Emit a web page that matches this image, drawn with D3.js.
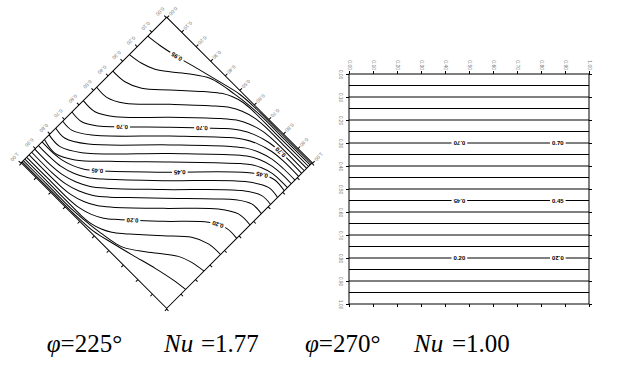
<!DOCTYPE html>
<html>
<head>
<meta charset="utf-8">
<script src="https://cdn.jsdelivr.net/npm/d3@7"></script>
<style>
  body { margin: 0; background: #fff; }
  svg { display: block; }
</style>
</head>
<body>
<div id="chart"></div>
<script>
// isotherm levels, shared by both panels
const levels = [0.05, 0.10, 0.15, 0.20, 0.25, 0.30, 0.35, 0.40, 0.45, 0.50,
                0.55, 0.60, 0.65, 0.70, 0.75, 0.80, 0.85, 0.90, 0.95];
const tickValues = [0, 0.1, 0.2, 0.3, 0.4, 0.5, 0.6, 0.7, 0.8, 0.9, 1];

// captions
const phiValues = [225, 270];
const nuValues = ['1.77', '1.00'];

// phi = 270 deg: pure conduction, every isotherm is a straight line at depth y
const depth270 = [0.95, 0.90, 0.85, 0.80, 0.75, 0.70, 0.65, 0.60, 0.55, 0.50,
                  0.45, 0.40, 0.35, 0.30, 0.25, 0.20, 0.15, 0.10, 0.05];
const labels270 = [
  { level: 0.70, at: 0.46, flip: true },  { level: 0.70, at: 0.87, flip: false },
  { level: 0.45, at: 0.46, flip: true },  { level: 0.45, at: 0.87, flip: false },
  { level: 0.20, at: 0.46, flip: false }, { level: 0.20, at: 0.87, flip: true }
];

// phi = 225 deg: traced isotherms, cavity coordinates [x, y] (x along top wall, y down left wall)
const t05 = [[0,0.9935],[0.215,0.9935],[0.353,0.9938],[0.483,0.9866],[0.595,0.9608],[0.704,0.9333],[0.823,0.902],[0.926,0.880],[1,0.870]];
const t10 = [[0,0.9852],[0.172,0.9852],[0.344,0.9849],[0.458,0.9756],[0.518,0.967],[0.577,0.9574],[0.642,0.9392],[0.725,0.885],[0.802,0.824],[0.862,0.781],[0.928,0.756],[1,0.744]];
const t15 = [[0,0.9746],[0.230,0.9746],[0.391,0.9746],[0.447,0.9691],[0.503,0.9522],[0.550,0.9275],[0.598,0.889],[0.631,0.8595],[0.739,0.762],[0.842,0.670],[0.922,0.635],[1,0.630]];
const t20 = [[0,0.962],[0.149,0.9619],[0.288,0.9619],[0.353,0.9553],[0.418,0.9361],[0.473,0.9072],[0.528,0.862],[0.690,0.712],[0.848,0.561],[0.931,0.519],[1,0.519]];
const t25 = [[0,0.9454],[0.208,0.945],[0.278,0.9385],[0.348,0.9175],[0.407,0.8866],[0.466,0.8385],[0.645,0.668],[0.836,0.481],[0.922,0.429],[1,0.427]];
const t30 = [[0,0.9275],[0.147,0.9278],[0.221,0.9203],[0.296,0.898],[0.359,0.865],[0.422,0.814],[0.488,0.751],[0.611,0.633],[0.790,0.458],[0.862,0.391],[0.933,0.349],[1,0.349]];
const t35 = [[0,0.9065],[0.106,0.9069],[0.180,0.8993],[0.255,0.877],[0.318,0.844],[0.381,0.793],[0.581,0.603],[0.853,0.338],[0.939,0.286],[1,0.286]];
const t40 = [[0,0.8814],[0.080,0.881],[0.149,0.875],[0.219,0.854],[0.278,0.823],[0.337,0.775],[0.550,0.573],[0.834,0.295],[0.934,0.235],[1,0.238]];
const t45 = [[0,0.8564],[0.066,0.8567],[0.127,0.8505],[0.187,0.832],[0.238,0.8055],[0.290,0.764],[0.521,0.543],[0.827,0.243],[0.922,0.189],[1,0.192]];
const t50 = [[0,0.840],[0.084,0.851],[0.175,0.805],[0.300,0.690],[0.509,0.486],[0.666,0.334],[0.756,0.249],[0.799,0.214],[0.843,0.191],[0.894,0.175],[0.945,0.170],[1,0.170]];
const t55 = [[0,0.808],[0.078,0.811],[0.173,0.757],[0.479,0.457],[0.710,0.236],[0.762,0.1945],[0.813,0.168],[0.873,0.1495],[0.934,0.1433],[1,0.1436]];
const t60 = [[0,0.762],[0.066,0.765],[0.166,0.705],[0.450,0.427],[0.663,0.225],[0.722,0.177],[0.781,0.146],[0.851,0.125],[0.920,0.119],[1,0.1186]];
const t65 = [[0,0.714],[0.061,0.714],[0.147,0.662],[0.419,0.397],[0.619,0.207],[0.682,0.156],[0.745,0.123],[0.820,0.1007],[0.894,0.0931],[1,0.0935]];
const t70 = [[0,0.651],[0.067,0.651],[0.138,0.609],[0.210,0.542],[0.389,0.367],[0.512,0.249],[0.578,0.186],[0.641,0.135],[0.704,0.102],[0.779,0.0797],[0.853,0.0722],[1,0.0725]];
const t75 = [[0,0.573],[0.078,0.571],[0.164,0.519],[0.355,0.332],[0.534,0.1615],[0.593,0.1134],[0.652,0.0825],[0.722,0.0615],[0.792,0.055],[1,0.0546]];
const t80 = [[0,0.481],[0.069,0.481],[0.152,0.439],[0.310,0.288],[0.472,0.138],[0.527,0.0928],[0.582,0.0639],[0.647,0.0447],[0.712,0.0381],[0.851,0.0381],[1,0.038]];
const t85 = [[0,0.370],[0.078,0.365],[0.158,0.330],[0.261,0.238],[0.369,0.1405],[0.402,0.111],[0.450,0.0725],[0.497,0.0478],[0.553,0.0309],[0.609,0.0254],[0.770,0.0254],[1,0.0254]];
const t90 = [[0,0.256],[0.072,0.244],[0.138,0.219],[0.198,0.176],[0.275,0.115],[0.358,0.0608],[0.423,0.0426],[0.482,0.033],[0.542,0.0244],[0.656,0.0151],[0.828,0.0148],[1,0.0148]];
const t95 = [[0,0.130],[0.074,0.120],[0.177,0.098],[0.296,0.0667],[0.405,0.0392],[0.517,0.0134],[0.647,0.0062],[0.785,0.0065],[1,0.0065]];
const iso225 = [t05, t10, t15, t20, t25, t30, t35, t40, t45, t50, t55, t60, t65, t70, t75, t80, t85, t90, t95];
const labels225 = [
  { level: 0.95, at: 0.17, flip: true },
  { level: 0.70, at: 0.22, flip: true }, { level: 0.70, at: 0.54, flip: true }, { level: 0.70, at: 0.88, flip: true },
  { level: 0.45, at: 0.25, flip: true }, { level: 0.45, at: 0.57, flip: true }, { level: 0.45, at: 0.89, flip: true },
  { level: 0.20, at: 0.54, flip: true }, { level: 0.20, at: 0.90, flip: true }
];

const width = 627, height = 365;
const svg = d3.select('#chart').append('svg')
  .attr('width', width)
  .attr('height', height);

function drawPanel(g, x, y, lines, labels) {
  const w = x.range()[1], h = y.range()[1];
  const fmt = d3.format('.2f');

  const top = g.append('g')
    .call(d3.axisTop(x).tickValues(tickValues).tickSize(3).tickSizeOuter(0).tickFormat(fmt));
  top.selectAll('text')
    .attr('transform', 'rotate(90)')
    .attr('x', -4).attr('y', 0).attr('dy', null)
    .attr('text-anchor', 'end')
    .attr('dominant-baseline', 'central');

  const left = g.append('g')
    .call(d3.axisLeft(y).tickValues(tickValues).tickSize(3).tickSizeOuter(0).tickFormat(fmt));
  left.selectAll('text')
    .attr('transform', 'rotate(90)')
    .attr('x', 0).attr('y', 8.5).attr('dy', null)
    .attr('text-anchor', 'middle')
    .attr('dominant-baseline', 'central');

  g.append('g').attr('transform', `translate(0,${h})`)
    .call(d3.axisBottom(x).tickValues(tickValues).tickSize(3).tickSizeOuter(0).tickFormat(''));
  g.append('g').attr('transform', `translate(${w},0)`)
    .call(d3.axisRight(y).tickValues(tickValues).tickSize(3).tickSizeOuter(0).tickFormat(''));

  g.selectAll('.domain').remove();
  g.selectAll('.tick text')
    .attr('fill', '#777')
    .style('font-family', '"Liberation Sans", Arial, sans-serif')
    .style('font-size', '5px');

  g.append('rect')
    .attr('width', w).attr('height', h)
    .attr('fill', 'none').attr('stroke', '#000').attr('stroke-width', 1);

  const line = d3.line()
    .x(d => x(d[0]))
    .y(d => y(d[1]))
    .curve(d3.curveCatmullRom.alpha(0.5));

  const paths = g.append('g').selectAll('path')
    .data(lines)
    .join('path')
    .attr('d', d => line(d.pts))
    .attr('fill', 'none')
    .attr('stroke', '#000')
    .attr('stroke-width', 1);

  // inline contour labels, cut into the line
  labels.forEach(l => {
    const node = paths.filter(d => d.level === l.level).node();
    const len = node.getTotalLength();
    const p = node.getPointAtLength(l.at * len);
    const q = node.getPointAtLength(Math.min(len, l.at * len + 1));
    const ang = Math.atan2(q.y - p.y, q.x - p.x) * 180 / Math.PI + (l.flip ? 180 : 0);
    const lg = g.append('g').attr('transform', `translate(${p.x},${p.y}) rotate(${ang})`);
    const rect = lg.append('rect').attr('fill', '#fff');
    const txt = lg.append('text')
      .attr('text-anchor', 'middle')
      .attr('dominant-baseline', 'central')
      .attr('fill', '#000')
      .style('font-family', '"Liberation Sans", Arial, sans-serif')
      .style('font-size', '6px')
      .style('font-weight', 'bold')
      .text(d3.format('.2f')(l.level));
    const tw = txt.node().getComputedTextLength();
    rect.attr('x', -tw / 2 - 2).attr('y', -2.5).attr('width', tw + 4).attr('height', 5);
  });
}

// left panel: cavity tilted to phi = 225 (square rotated 45 deg about its top-left corner)
const side225 = 205.8;
const x225 = d3.scaleLinear().domain([0, 1]).range([0, side225]);
const y225 = d3.scaleLinear().domain([0, 1]).range([0, side225]);
const g225 = svg.append('g').attr('transform', 'translate(166.7,17.3) rotate(45)');
drawPanel(g225, x225, y225,
  levels.map((lv, i) => ({ level: lv, pts: iso225[i] })),
  labels225);

// right panel: phi = 270
const x270 = d3.scaleLinear().domain([0, 1]).range([0, 240]);
const y270 = d3.scaleLinear().domain([0, 1]).range([0, 230]);
const g270 = svg.append('g').attr('transform', 'translate(349,74)');
drawPanel(g270, x270, y270,
  levels.map((lv, i) => ({ level: lv, pts: [[0, depth270[i]], [1, depth270[i]]] })),
  labels270);

// captions
const capX = [[46.7, 164, 201], [305, 414, 452]];
const cap = svg.append('g')
  .style('font-family', '"Liberation Serif", "Times New Roman", serif')
  .style('font-size', '25px')
  .attr('fill', '#000');
phiValues.forEach((phi, i) => {
  const t1 = cap.append('text').attr('x', capX[i][0]).attr('y', 352);
  t1.append('tspan').style('font-style', 'italic').text('φ');
  t1.append('tspan').text(`=${phi}°`);
  cap.append('text').attr('x', capX[i][1]).attr('y', 352).style('font-style', 'italic').text('Nu');
  cap.append('text').attr('x', capX[i][2]).attr('y', 352).text(`=${nuValues[i]}`);
});
</script>
</body>
</html>
